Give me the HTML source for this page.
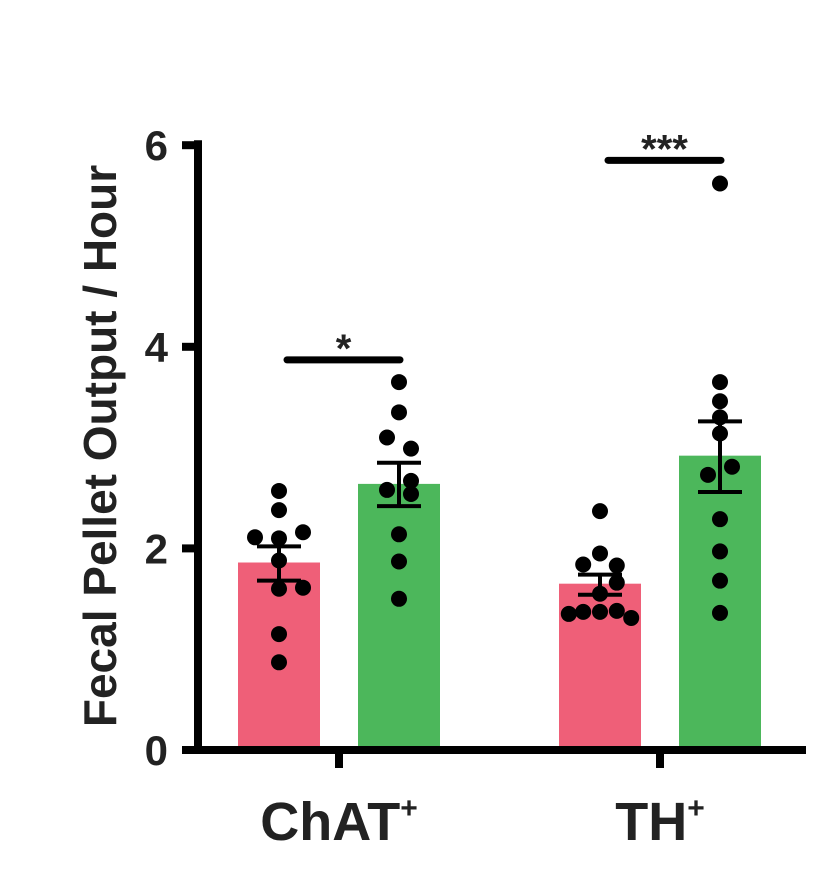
<!DOCTYPE html>
<html><head><meta charset="utf-8"><style>
html,body{margin:0;padding:0;background:#fff;}
svg text{font-family:"Liberation Sans",Arial,sans-serif;font-weight:bold;fill:#222;}
</style></head><body>
<svg id="chart" width="840" height="879" viewBox="0 0 840 879" xmlns="http://www.w3.org/2000/svg">
<g id="plot"></g>
</svg>
<script>
const groups = ["ChAT", "TH"];
const means = [1.86, 2.64, 1.65, 2.92];
const errHi = [2.02, 2.85, 1.74, 3.26];
const errLo = [1.68, 2.42, 1.54, 2.56];
const dots0 = [2.57, 2.38, 2.11, 2.10, 2.16, 1.88, 1.60, 1.61, 1.15, 0.87];
const dots1 = [3.65, 3.35, 3.10, 2.99, 2.67, 2.58, 2.54, 2.14, 1.87, 1.50];
const dots2 = [2.37, 1.95, 1.84, 1.83, 1.66, 1.55, 1.35, 1.37, 1.37, 1.38, 1.31];
const dots3 = [5.62, 3.65, 3.46, 3.30, 3.14, 2.81, 2.73, 2.29, 1.97, 1.68, 1.36];
const jit0 = [0,0,-1,0,1,0,0,1,0,0];
const jit1 = [0,0,-0.5,0.5,0.5,-0.5,0.5,0,0,0];
const jit2 = [0,0,-0.7,0.7,0.7,0,-1.3,-0.7,0,0.7,1.3];
const jit3 = [0,0,0,0,0,0.5,-0.5,0,0,0,0];
const yTicks = [0, 2, 4, 6];
const sigLabels = ["*", "***"];
const sigHeights = [3.87, 5.85];

const NS = "http://www.w3.org/2000/svg";
const g = document.getElementById("plot");
const y = v => 750 - v * 100.8;
const barCenters = [279, 399, 600, 720];
const barW = 82;
const colors = ["#ef5f78", "#4cb75b", "#ef5f78", "#4cb75b"];
function mk(tag, attrs, parent) {
  const el = document.createElementNS(NS, tag);
  for (const k in attrs) el.setAttribute(k, attrs[k]);
  (parent || g).appendChild(el);
  return el;
}
means.forEach((m, i) => {
  const r = mk("rect", {x: barCenters[i] - barW/2, y: y(m), width: barW, height: y(0) - y(m), fill: colors[i]});
  
  
});
const allDots = [dots0, dots1, dots2, dots3];
const allJit = [jit0, jit1, jit2, jit3];
allDots.forEach((arr, i) => {
  arr.forEach((v, j) => {
    const c = mk("circle", {cx: barCenters[i] + allJit[i][j] * 24, cy: y(v), r: 8, fill: "#000"});
    
    
  });
});
means.forEach((m, i) => {
  const cx = barCenters[i];
  const eg = mk("g", {stroke: "#000", "stroke-width": 4});
  
  
  mk("line", {x1: cx, x2: cx, y1: y(errHi[i]), y2: y(errLo[i])}, eg);
  mk("line", {x1: cx - 22, x2: cx + 22, y1: y(errHi[i]), y2: y(errHi[i])}, eg);
  mk("line", {x1: cx - 22, x2: cx + 22, y1: y(errLo[i]), y2: y(errLo[i])}, eg);
});
sigLabels.forEach((s, k) => {
  const x1 = barCenters[k*2] + 8, x2 = barCenters[k*2+1] + 1;
  const l = mk("line", {x1: x1, x2: x2, y1: y(sigHeights[k]), y2: y(sigHeights[k]), stroke: "#000", "stroke-width": 7, "stroke-linecap": "round"});
  
  
  const t = mk("text", {x: (x1 + x2) / 2, y: y(sigHeights[k]) + 2, "text-anchor": "middle", "font-size": 40});
  t.textContent = s;
  
  
});
const ya = mk("line", {x1: 198, x2: 198, y1: y(6) - 5, y2: 754, stroke: "#000", "stroke-width": 8});


const xa = mk("line", {x1: 184, x2: 806, y1: 750, y2: 750, stroke: "#000", "stroke-width": 8});


yTicks.forEach(v => {
  const tk = mk("line", {x1: 182, x2: 198, y1: y(v), y2: y(v), stroke: "#000", "stroke-width": 8});
  
  
  const t = mk("text", {x: 168, y: y(v) + 15, "text-anchor": "end", "font-size": 42});
  t.textContent = v;
  
  
});
groups.forEach((name, k) => {
  const cx = (barCenters[k*2] + barCenters[k*2+1]) / 2;
  const tk = mk("line", {x1: cx, x2: cx, y1: 750, y2: 768, stroke: "#000", "stroke-width": 8});
  
  
  const t = mk("text", {x: cx, y: 840, "text-anchor": "middle", "font-size": 54});
  t.textContent = name;
  const sup = document.createElementNS(NS, "tspan");
  sup.setAttribute("font-size", 30);
  sup.setAttribute("dy", -22);
  sup.textContent = "+";
  t.appendChild(sup);
  
  
});
const yt = mk("text", {x: 0, y: 0, "text-anchor": "middle", "font-size": 46, transform: "translate(116,446) rotate(-90)"});
yt.textContent = "Fecal Pellet Output / Hour";


</script>
</body></html>
